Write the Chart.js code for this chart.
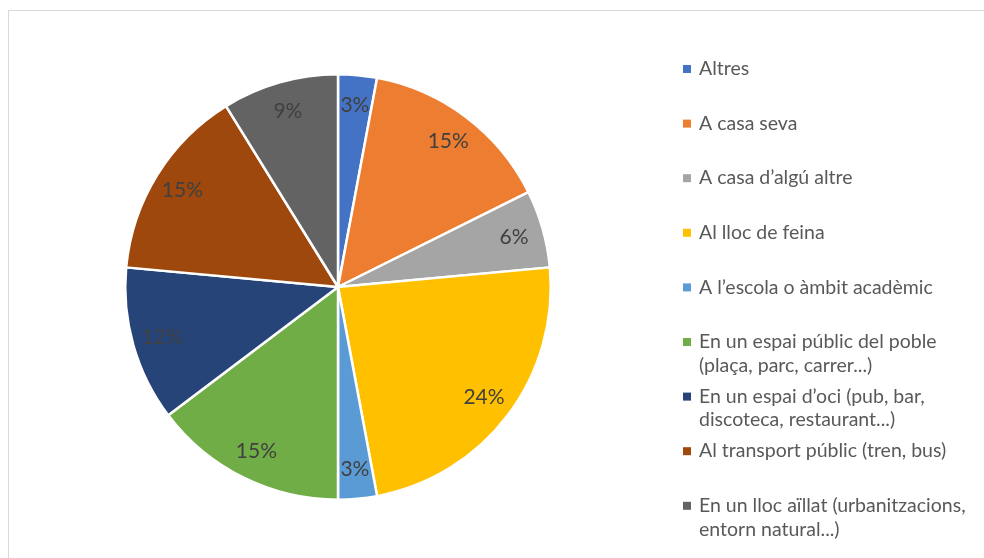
<!DOCTYPE html>
<html>
<head>
<meta charset="utf-8">
<script src="https://cdn.jsdelivr.net/npm/chart.js@4/dist/chart.umd.min.js"></script>
<style>
  body { margin: 0; background: #fff; }
  #wrap { width: 984px; height: 558px; }
</style>
</head>
<body>
<div id="wrap"><canvas id="chart" width="984" height="558"></canvas></div>
<script>
// categories and counts (percentages computed from them)
const categories = [
  ["Altres"],
  ["A casa seva"],
  ["A casa d\u2019alg\u00fa altre"],
  ["Al lloc de feina"],
  ["A l\u2019escola o \u00e0mbit acad\u00e8mic"],
  ["En un espai p\u00fablic del poble", "(pla\u00e7a, parc, carrer...)"],
  ["En un espai d\u2019oci (pub, bar,", "discoteca, restaurant...)"],
  ["Al transport p\u00fablic (tren, bus)"],
  ["En un lloc a\u00efllat (urbanitzacions,", "entorn natural...)"]
]
const counts = [1, 5, 2, 8, 1, 5, 4, 5, 3]
const colors = ["#4472C4", "#ED7D31", "#A5A5A5", "#FFC000", "#5B9BD5", "#70AD47", "#264478", "#9E480E", "#636363"]

const FONT = "Lato, 'Liberation Sans', sans-serif"

// frame + percent labels + legend
const extras = {
  id: 'extras',
  beforeDraw(chart) {
    const ctx = chart.ctx
    ctx.save()
    ctx.fillStyle = '#fff'
    ctx.fillRect(0, 0, chart.width, chart.height)
    ctx.strokeStyle = '#d9d9d9'
    ctx.lineWidth = 1
    ctx.strokeRect(8.5, 10.5, chart.width + 10, chart.height + 10)
    ctx.restore()
  },
  afterDatasetsDraw(chart) {
    const ctx = chart.ctx
    const total = counts.reduce((a, b) => a + b, 0)
    const meta = chart.getDatasetMeta(0)
    ctx.save()
    ctx.font = '21px ' + FONT
    ctx.fillStyle = '#404040'
    ctx.textAlign = 'center'
    ctx.textBaseline = 'middle'
    meta.data.forEach((arc, i) => {
      const p = arc.getProps(['x', 'y', 'startAngle', 'endAngle', 'outerRadius'], true)
      const mid = (p.startAngle + p.endAngle) / 2
      const r = p.outerRadius * 0.86
      const pct = Math.round(counts[i] / total * 100) + '%'
      ctx.fillText(pct, p.x + Math.cos(mid) * r, p.y + Math.sin(mid) * r)
    })

    // legend
    ctx.font = '19.5px ' + FONT
    ctx.textAlign = 'left'
    categories.forEach((lines, i) => {
      const y = 69 + i * 54.6
      ctx.fillStyle = colors[i]
      ctx.fillRect(683, y - 4, 8, 8)
      ctx.fillStyle = '#595959'
      lines.forEach((t, j) => ctx.fillText(t, 699, y + j * 23.5))
    })
    ctx.restore()
  }
}

const chart = new Chart(document.getElementById('chart'), {
  type: 'pie',
  data: {
    labels: categories.map(l => l.join(' ')),
    datasets: [{
      data: counts,
      backgroundColor: colors,
      borderColor: '#ffffff',
      borderWidth: 2.5,
      hoverOffset: 0
    }]
  },
  options: {
    responsive: false,
    animation: false,
    layout: { padding: { left: 124, top: 73, right: 432, bottom: 57 } },
    plugins: {
      legend: { display: false },
      tooltip: { enabled: false }
    }
  },
  plugins: [extras]
})
</script>
</body>
</html>
